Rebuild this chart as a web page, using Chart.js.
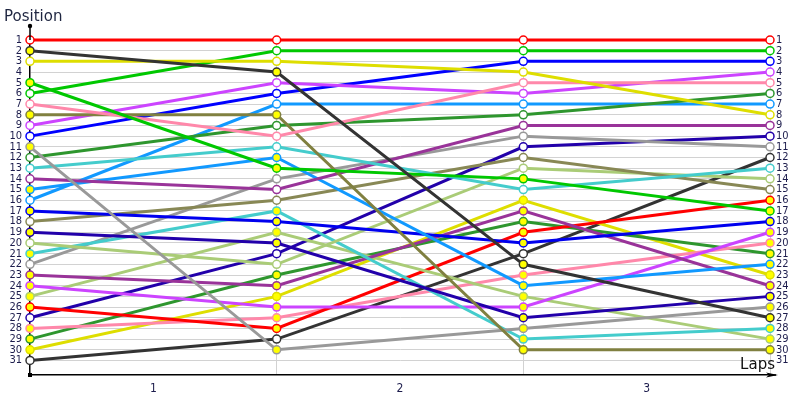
<!DOCTYPE html>
<html>
<head>
<meta charset="utf-8">
<script src="https://cdn.jsdelivr.net/npm/chart.js@4.4.0/dist/chart.umd.min.js"></script>
<style>
  html, body { margin: 0; padding: 0; background: #fff; }
  #wrap { width: 800px; height: 400px; }
</style>
</head>
<body>
<div id="wrap"><canvas id="posChart"></canvas></div>
<script>
/* Lap chart — position of each car at start and after every lap */
const lapIndex = [0, 1, 2, 3];
const lapLabels = ['1', '2', '3'];
const positionTicks = [1, 2, 3, 4, 5, 6, 7, 8, 9, 10, 11, 12, 13, 14, 15, 16, 17, 18, 19, 20, 21, 22, 23, 24, 25, 26, 27, 28, 29, 30, 31];

// one entry per car, in grid order
const driverColors = [
    '#ff0000', '#333333', '#dede00', '#00c800', '#00c800', '#ff88aa', '#808040', '#cc44ff', '#0000ff', '#999999',
    '#2e962e', '#44cccc', '#993399', '#1199ff', '#1199ff', '#0000ee', '#888855', '#2200aa', '#aacc77', '#44cccc',
    '#999999', '#993399', '#cc44ff', '#aacc77', '#ff0000', '#2200aa', '#ff88aa', '#2e962e', '#dede00', '#333333',
];
const driverFilled = [
    false, true, false, true, false, false, true, false, false, true,
    false, false, false, true, false, true, false, true, false, true,
    false, true, true, true, true, false, true, true, true, false,
];
const posStart = [1, 2, 3, 5, 6, 7, 8, 9, 10, 11, 12, 13, 14, 15, 16, 17, 18, 19, 20, 21, 22, 23, 24, 25, 26, 27, 28, 29, 30, 31];
const posLap1 = [1, 4, 3, 13, 2, 10, 8, 5, 6, 30, 9, 11, 15, 12, 7, 18, 16, 20, 22, 17, 14, 24, 26, 19, 28, 21, 27, 23, 25, 29];
const posLap2 = [1, 22, 4, 14, 2, 5, 30, 6, 3, 28, 8, 15, 9, 24, 7, 20, 12, 27, 13, 29, 10, 17, 26, 25, 19, 11, 23, 18, 16, 21];
const posLap3 = [1, 27, 8, 17, 2, 5, 30, 4, 3, 26, 6, 13, 9, 22, 7, 18, 15, 25, 14, 28, 11, 24, 19, 29, 16, 10, 20, 21, 23, 12];

const textC = '#1c1c4c';
const gridC = '#d2d2d2';
const tickFont = { family: 'Tahoma, "DejaVu Sans Condensed", "DejaVu Sans", sans-serif', size: 11 };

const datasets = driverColors.map((col, i) => {
    const row = [posStart[i], posLap1[i], posLap2[i], posLap3[i]];
    return {
        data: row.map((p, k) => ({ x: lapIndex[k], y: p })),
        borderColor: col,
        backgroundColor: col,
        borderWidth: 3,
        pointRadius: 4,
        pointBorderWidth: 1.5,
        pointBorderColor: col,
        pointBackgroundColor: driverFilled[i] ? '#ffff00' : '#ffffff',
        tension: 0,
        clip: false,
    };
});

// axis tips, arrow and the two axis captions
const axisDecor = {
    id: 'axisDecor',
    afterDraw(chart) {
        const { ctx, chartArea: a } = chart;
        ctx.save();
        ctx.strokeStyle = '#000';
        ctx.fillStyle = '#000';
        ctx.lineWidth = 1.5;
        ctx.beginPath();
        ctx.moveTo(a.left, a.top);
        ctx.lineTo(a.left, a.top - 14);
        ctx.moveTo(a.right, a.bottom);
        ctx.lineTo(a.right + 6, a.bottom);
        ctx.stroke();
        ctx.beginPath();
        ctx.arc(a.left, a.top - 14, 2.2, 0, Math.PI * 2);
        ctx.fill();
        ctx.fillRect(a.left - 2, a.bottom - 2, 4, 4);
        ctx.beginPath();
        ctx.moveTo(a.right + 8, a.bottom);
        ctx.lineTo(a.right - 4, a.bottom - 2.5);
        ctx.lineTo(a.right - 1, a.bottom);
        ctx.lineTo(a.right - 4, a.bottom + 2.5);
        ctx.closePath();
        ctx.fill();

        ctx.font = '15px Tahoma, "DejaVu Sans", sans-serif';
        ctx.textBaseline = 'alphabetic';
        ctx.fillStyle = '#1e2540';
        ctx.textAlign = 'left';
        ctx.fillText('Position', 4, 21);
        ctx.fillStyle = '#111';
        ctx.textAlign = 'right';
        ctx.fillText('Laps', a.right + 5, a.bottom - 6);
        ctx.restore();
    },
};

const yScale = (position) => ({
    type: 'linear',
    position,
    reverse: true,
    min: 1,
    max: 32.36,
    afterBuildTicks: (s) => { s.ticks = positionTicks.map((v) => ({ value: v })); },
    afterFit: (s) => { s.width = 30; },
    ticks: { color: textC, font: tickFont, padding: position === 'left' ? 8 : 6, autoSkip: false },
    grid: { display: position === 'left', color: gridC, lineWidth: 1, drawTicks: false },
    border: { display: position === 'left', color: '#000', width: 1.5 },
});

new Chart(document.getElementById('posChart'), {
    type: 'line',
    data: { datasets },
    options: {
        responsive: true,
        maintainAspectRatio: false,
        animation: false,
        layout: { padding: { top: 40, left: 0, right: 0, bottom: 0 } },
        plugins: { legend: { display: false }, tooltip: { enabled: false } },
        scales: {
            x: {
                type: 'linear',
                min: 0,
                max: 3,
                afterBuildTicks: (s) => { s.ticks = [0, 0.5, 1, 1.5, 2, 2.5, 3].map((v) => ({ value: v })); },
                afterFit: (s) => { s.height = 25; },
                ticks: {
                    color: textC,
                    font: { family: tickFont.family, size: 12 },
                    padding: 7,
                    autoSkip: false,
                    maxRotation: 0,
                    callback: (v) => (Number.isInteger(v) ? '' : lapLabels[Math.floor(v)]),
                },
                grid: {
                    drawTicks: false,
                    color: (c) => (c.tick && Number.isInteger(c.tick.value) && c.tick.value > 0 ? gridC : 'rgba(0,0,0,0)'),
                },
                border: { color: '#000', width: 1.5 },
            },
            y: yScale('left'),
            y2: yScale('right'),
        },
    },
    plugins: [axisDecor],
});
</script>
</body>
</html>
